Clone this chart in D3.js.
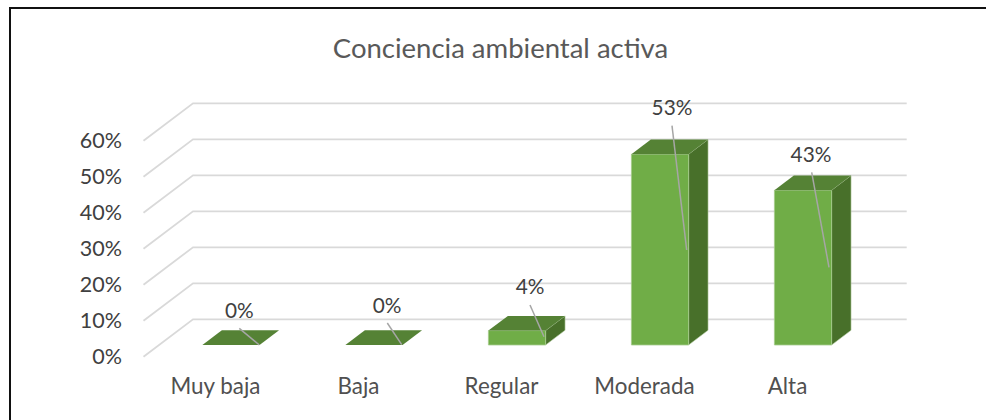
<!DOCTYPE html>
<html><head><meta charset="utf-8">
<script src="https://cdn.jsdelivr.net/npm/d3@7"></script>
<style>html,body{margin:0;background:#fff}svg{display:block}text{font-family:Lato,"Open Sans",sans-serif;fill:#404040}</style>
</head><body><div id="c"></div>
<script>
const categories = ["Muy baja","Baja","Regular","Moderada","Alta"];
const values = [0,0,4,53,43];
const valueLabels = ["0%","0%","4%","53%","43%"];
const axisTicks = [0,10,20,30,40,50,60];
const chartTitle = "Conciencia ambiental activa";

const W=986,H=420;
const svg=d3.select("#c").append("svg").attr("width",W).attr("height",H);
svg.append("path").attr("d","M10,420V8H986").attr("fill","none").attr("stroke","#111").attr("stroke-width",2);

const y=d3.scaleLinear().domain([0,60]).range([356.7,140.7]);
const x=d3.scaleBand().domain(categories).range([144,859]).paddingInner(.6).paddingOuter(.3);
const depth={dx:49.5,dy:-37.4};
const P=(px,v,d)=>[px+depth.dx*d,y(v)+depth.dy*d];
const line=d3.line();
const d0=.313,d1=.706;

// gridlines
const g=svg.append("g");
g.selectAll("path").data(axisTicks).join("path")
 .attr("d",t=>line([[143.5,y(t)],[193,y(t)+depth.dy],[906.7,y(t)+depth.dy]]))
 .attr("fill","none").attr("stroke","#d9d9d9").attr("stroke-width",1.8);

// bars
const bars=svg.append("g").selectAll("g").data(categories.map((c,i)=>({c,v:values[i]}))).join("g");
const face=(sel,fn,fill)=>sel.append("path").attr("d",d=>line(fn(d))+"Z").attr("fill",fill);
const left=d=>x(d.c), right=d=>x(d.c)+x.bandwidth();
face(bars.filter(d=>d.v>0),d=>[P(right(d),0,d0),P(right(d),d.v,d0),P(right(d),d.v,d1),P(right(d),0,d1)],"#48702a").attr("stroke","#b7cfa6").attr("stroke-width",.6);
face(bars.filter(d=>d.v>0),d=>[P(left(d),0,d0),P(right(d),0,d0),P(right(d),d.v,d0),P(left(d),d.v,d0)],"#70ad47").attr("stroke","#a4cb8b").attr("stroke-width",.8);
face(bars,d=>[P(left(d),d.v,d0),P(right(d),d.v,d0),P(right(d),d.v,d1),P(left(d),d.v,d1)],"#558235");

// axis labels
const ax=svg.append("g").attr("transform","translate(122,-1)")
 .call(d3.axisLeft(y).tickValues(axisTicks).tickFormat(t=>t+"%").tickSize(0).tickPadding(0));
ax.select(".domain").remove();
ax.selectAll("text").attr("font-size",21.5).attr("dy",".35em").style("font-family",'Lato,"Open Sans",sans-serif').style("fill","#404040");

svg.append("g").selectAll("text").data(categories).join("text")
 .attr("x",c=>x(c)+x.bandwidth()/2).attr("y",394)
 .attr("text-anchor","middle").attr("font-size",22.4).style("fill","#505050").text(c=>c);

// data labels with leader lines
const labelAnchors=[[239.3,318],[387,312.7],[530,294],[672,115],[811,162]];
const leaderEnds=[[[239.3,328.3],[259.3,345]],[[387.3,323],[401.7,344.7]],[[530,305],[544,336.7]],[[672,125.7],[686.7,250]],[[811.7,172.3],[829,267.3]]];
svg.append("g").selectAll("path").data(leaderEnds).join("path")
 .attr("d",d=>line(d)).attr("stroke","#a6a6a6").attr("stroke-width",1.5).attr("fill","none");
svg.append("g").selectAll("text").data(valueLabels).join("text")
 .attr("x",(d,i)=>labelAnchors[i][0]).attr("y",(d,i)=>labelAnchors[i][1])
 .attr("text-anchor","middle").attr("font-size",20.8).text(d=>d);

svg.append("text").attr("x",500.5).attr("y",58).attr("text-anchor","middle").attr("font-size",27.5).attr("font-weight",400).style("fill","#595959").text(chartTitle);
</script></body></html>
